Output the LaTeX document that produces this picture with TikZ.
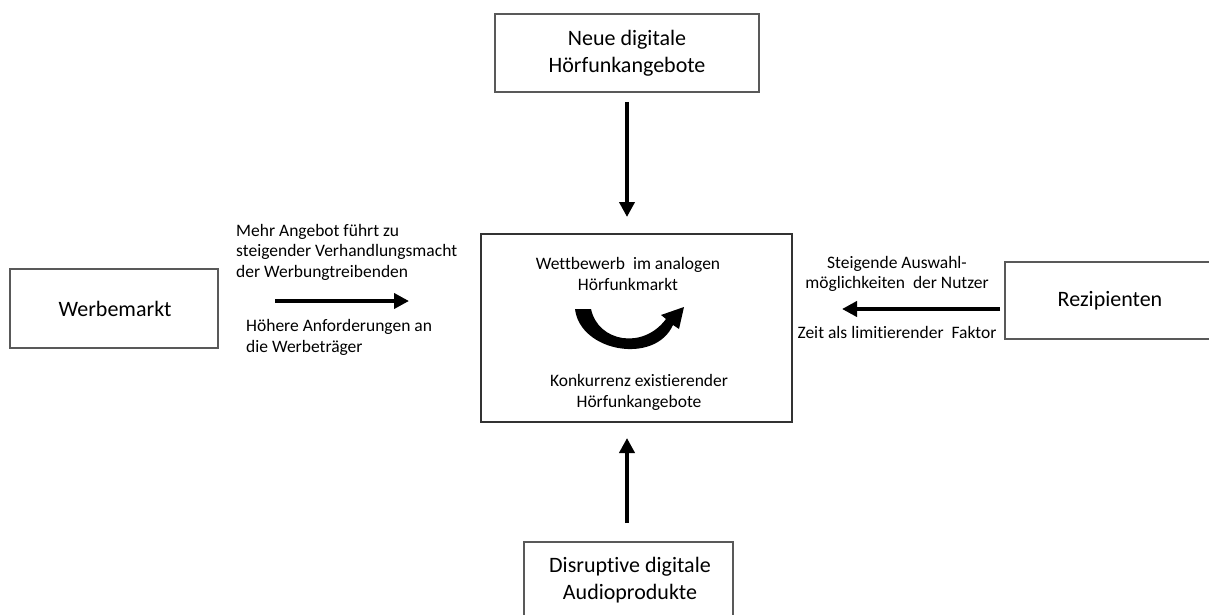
\documentclass[tikz,border=0pt]{standalone}
\usepackage{fontspec}
\setmainfont{Carlito}[Ligatures=NoCommon]
\usetikzlibrary{arrows.meta}
\tikzset{
  box/.style={draw=black!65, line width=1.2pt, inner sep=0pt},
  boxlabel/.style={font=\fontsize{22}{27}\selectfont, align=center, inner sep=0pt},
  sidetext/.style={font=\fontsize{17.5}{20.5}\selectfont, inner sep=0pt},
  bigarrow/.style={line width=4pt, -{Triangle[length=15pt,width=15pt]}},
}
\begin{document}
\begin{tikzpicture}[x=1pt,y=-1pt]
\useasboundingbox (0,0) rectangle (1209,615);
% boxes
\draw[box] (495,14) rectangle (759,92);
\node[boxlabel] (neu) at (627,53.5) {Neue digitale\\Hörfunkangebote};
\draw[box, draw=black!80, line width=1.5pt] (481,234) rectangle (792,422);
\draw[box] (10,269) rectangle (218,348);
\node[boxlabel] (werbe) at (115,308.5) {Werbemarkt};
\draw[box] (1005,262) rectangle (1216,339);
\node[boxlabel] (rezi) at (1110,300.5) {Rezipienten};
\draw[box] (524,542) rectangle (733,620);
\node[boxlabel] (disr) at (630,580.5) {Disruptive digitale\\Audioprodukte};
% center texts
\node[sidetext, align=center] (wett) at (628,274) {Wettbewerb\ \ im analogen\\Hörfunkmarkt};
\node[sidetext, align=center] (konk) at (639,392.5) {Konkurrenz existierender\\Hörfunkangebote};
% left texts
\node[sidetext, align=left, anchor=west] (mehr) at (236,252) {Mehr Angebot führt zu\\steigender Verhandlungsmacht\\der Werbungtreibenden};
\node[sidetext, align=left, anchor=west] (hoeh) at (246,337.5) {Höhere Anforderungen an\\die Werbeträger};
% right texts
\node[sidetext, align=center] (steig) at (897,274) {Steigende Auswahl-\\möglichkeiten\ \ der Nutzer};
\node[sidetext, align=center] (zeit) at (897,332) {Zeit als limitierender\ \ Faktor};
% arrow coordinates
\coordinate (t1) at (627,102); \coordinate (t2) at (627,217);
\coordinate (b1) at (627,523); \coordinate (b2) at (627,438);
\coordinate (l1) at (275,301); \coordinate (l2) at (409,301);
\coordinate (r1) at (1000,309); \coordinate (r2) at (842,309);
\draw[bigarrow] (t1) -- (t2);
\draw[bigarrow] (b1) -- (b2);
\draw[bigarrow] (l1) -- (l2);
\draw[bigarrow] (r1) -- (r2);
% curved arrow
\fill[black] (575,309) .. controls (580,352) and (655,365) .. (673,325)
  -- (679,329) -- (684,307) -- (661,315) -- (666,319)
  .. controls (643,350) and (598,342) .. (591,309) -- cycle;
\end{tikzpicture}
\end{document}
